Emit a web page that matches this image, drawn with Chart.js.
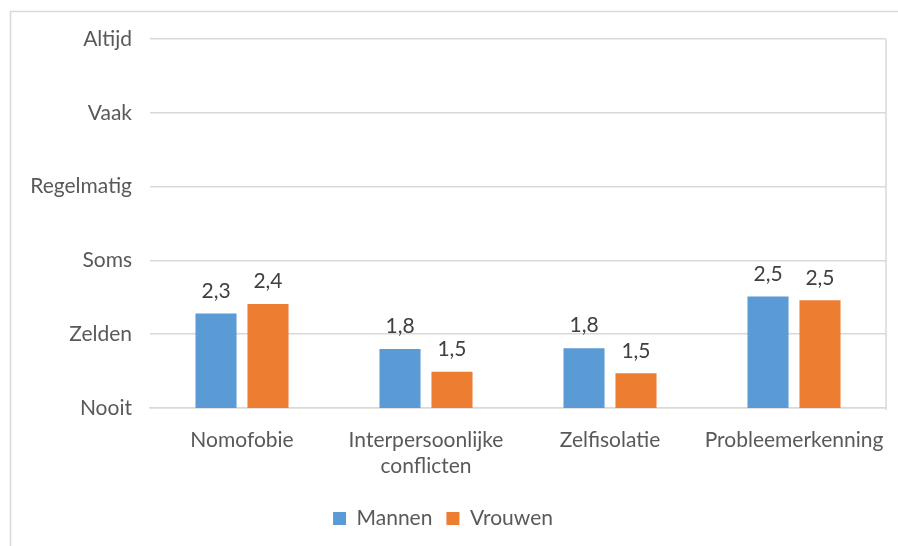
<!DOCTYPE html>
<html>
<head>
<meta charset="utf-8">
<script src="https://cdn.jsdelivr.net/npm/chart.js@4"></script>
<style>
html,body{margin:0;padding:0;background:#fff;}
#wrap{width:898px;height:546px;position:relative;}
</style>
</head>
<body>
<div id="wrap"><canvas id="c" width="898" height="546"></canvas></div>
<script>
const categories = ["Nomofobie", ["Interpersoonlijke", "conflicten"], "Zelfisolatie", "Probleemerkenning"];
const mannen = [2.28, 1.80, 1.81, 2.51];
const vrouwen = [2.41, 1.49, 1.47, 2.46];
const tickLabels = {1: "Nooit", 2: "Zelden", 3: "Soms", 4: "Regelmatig", 5: "Vaak", 6: "Altijd"};

const FONT = "Lato, sans-serif";
const FS = 21;

const valueLabels = {
  id: 'valueLabels',
  afterDatasetsDraw(chart) {
    const ctx = chart.ctx;
    ctx.save();
    ctx.font = FS + "px " + FONT;
    ctx.fillStyle = "#404040";
    ctx.textAlign = "center";
    ctx.textBaseline = "bottom";
    chart.data.datasets.forEach((ds, i) => {
      chart.getDatasetMeta(i).data.forEach((bar, j) => {
        const v = ds.data[j].toFixed(1).replace('.', ',');
        ctx.fillText(v, bar.x, bar.y - 12);
      });
    });
    ctx.restore();
  }
};

const frame = {
  id: 'frame',
  beforeDraw(chart) {
    const ctx = chart.ctx;
    const a = chart.chartArea;
    ctx.save();
    ctx.fillStyle = "#fff";
    ctx.fillRect(0, 0, chart.width, chart.height);
    ctx.strokeStyle = "#D9D9D9";
    ctx.lineWidth = 1.5;
    ctx.beginPath();
    ctx.moveTo(10.5, chart.height);
    ctx.lineTo(10.5, 11.5);
    ctx.lineTo(chart.width, 11.5);
    ctx.stroke();
    ctx.beginPath();
    ctx.moveTo(a.right, a.top);
    ctx.lineTo(a.right, a.bottom + 2);
    ctx.stroke();
    ctx.restore();
  }
};

new Chart(document.getElementById('c'), {
  type: 'bar',
  data: {
    labels: categories,
    datasets: [
      {label: 'Mannen', data: mannen, backgroundColor: '#5B9BD5', borderColor: '#5B9BD5', borderWidth: 0},
      {label: 'Vrouwen', data: vrouwen, backgroundColor: '#ED7D31', borderColor: '#ED7D31', borderWidth: 0}
    ]
  },
  options: {
    responsive: false,
    animation: false,
    devicePixelRatio: 1,
    layout: {padding: {top: 39, right: 12, left: 0, bottom: 7}},
    datasets: {bar: {categoryPercentage: 0.565, barPercentage: 0.79}},
    plugins: {
      legend: {
        position: 'bottom',
        labels: {
          font: {family: FONT, size: FS},
          color: '#595959',
          boxWidth: 13,
          boxHeight: 13,
          padding: 14
        }
      },
      tooltip: {enabled: false}
    },
    scales: {
      y: {
        min: 1, max: 6,
        afterFit(s) { s.width = 150; },
        ticks: {
          stepSize: 1,
          padding: 18,
          color: '#595959',
          font: {family: FONT, size: FS},
          callback: v => tickLabels[v] || ''
        },
        grid: {color: '#D9D9D9', lineWidth: 1.5, drawTicks: false},
        border: {display: false}
      },
      x: {
        afterFit(s) { s.height = 86; s.paddingLeft = 0; s.paddingRight = 0; },
        ticks: {
          color: '#595959',
          font: {family: FONT, size: FS, lineHeight: 1.25},
          padding: 19,
          maxRotation: 0
        },
        grid: {display: false, drawTicks: false},
        border: {display: true, color: '#D9D9D9', width: 1.5}
      }
    }
  },
  plugins: [frame, valueLabels]
});
</script>
</body>
</html>
